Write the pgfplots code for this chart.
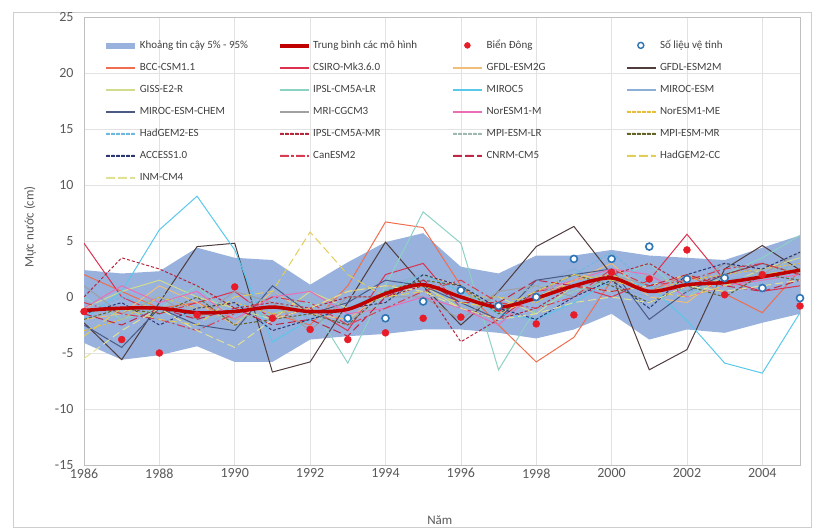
\documentclass[border=0pt]{standalone}
\usepackage{fontspec}
\setmainfont{Carlito}
\usepackage{pgfplots}
\usepackage{pgfplotstable}
\usepgfplotslibrary{fillbetween}
\pgfplotsset{compat=1.18}

\definecolor{bandc}{RGB}{152,177,221}
\definecolor{meanc}{RGB}{192,0,0}
\definecolor{obsc}{RGB}{232,28,40}
\definecolor{satc}{RGB}{46,117,182}
\definecolor{gridc}{RGB}{226,226,226}
\definecolor{axc}{RGB}{191,191,191}
\definecolor{tlc}{RGB}{89,89,89}
\definecolor{legc}{RGB}{64,64,64}
\definecolor{cBCC}{RGB}{240,110,80}
\definecolor{cCSIRO}{RGB}{220,50,80}
\definecolor{cGFDLG}{RGB}{240,190,120}
\definecolor{cGFDLM}{RGB}{80,60,60}
\definecolor{cGISS}{RGB}{210,220,140}
\definecolor{cIPSLLR}{RGB}{140,210,195}
\definecolor{cMIROCv}{RGB}{90,200,235}
\definecolor{cMESM}{RGB}{140,175,215}
\definecolor{cMCHEM}{RGB}{75,90,130}
\definecolor{cMRI}{RGB}{160,160,160}
\definecolor{cNOR}{RGB}{235,110,180}
\definecolor{cNORME}{RGB}{230,190,60}
\definecolor{cHADES}{RGB}{110,185,225}
\definecolor{cIPSLMR}{RGB}{180,40,60}
\definecolor{cMPILR}{RGB}{160,185,175}
\definecolor{cMPIMR}{RGB}{100,100,40}
\definecolor{cACCESS}{RGB}{45,55,115}
\definecolor{cCAN}{RGB}{215,60,80}
\definecolor{cCNRM}{RGB}{190,40,70}
\definecolor{cHADCC}{RGB}{225,205,90}
\definecolor{cINM}{RGB}{225,225,150}

\pgfplotstableread{
year bcc csiro gfdlg gfdlm giss ipsllr miroc5 mesm mchem mri nor norme hades ipslmr mpilr mpimr access can cnrm hadcc inm
1986 2.0 4.8 -2.0 -2.3 -1.0 0.0 -2.0 -0.5 -2.5 1.0 -1.0 -3.0 -1.5 0.0 -1.0 -2.0 -1.5 -0.5 -1.5 -3.5 -5.5
1987 0.5 0.0 -1.5 -5.6 0.5 -2.0 0.5 -1.0 -4.5 -1.5 1.0 -2.0 0.0 3.5 -2.0 -1.0 -0.5 -1.5 -2.5 -1.0 -3.0
1988 -1.0 -1.5 1.0 -0.5 1.5 -1.0 6.0 -2.0 -1.0 0.0 -0.5 0.0 -1.0 2.5 0.5 -1.5 -2.5 -2.0 -1.0 -2.0 -1.0
1989 -0.5 -0.5 -0.5 4.5 0.0 1.0 9.0 -3.0 -2.5 -2.0 0.5 -1.0 -2.0 1.0 -1.5 0.0 -1.0 -3.0 -2.0 -2.5 -3.0
1990 -2.0 0.5 -2.5 4.8 -1.0 -2.0 4.2 -1.0 -3.0 0.5 -2.0 -0.5 -1.0 -1.0 -2.0 -2.5 -0.5 -1.5 -1.0 0.0 -4.5
1991 -1.5 -2.0 0.5 -6.7 -2.0 -1.5 -4.0 0.5 1.0 -0.5 0.0 -1.5 0.0 -0.5 -1.0 -2.0 -3.0 0.0 -2.5 0.5 -2.0
1992 -2.5 -1.0 -1.5 -5.8 0.5 -0.5 -2.0 -2.0 -1.5 -3.0 0.5 -1.0 -2.0 -1.0 0.0 -1.5 -2.0 -0.5 -2.0 5.8 -1.0
1993 1.0 -3.0 -2.0 -0.5 -1.0 -5.9 -1.0 0.0 -0.5 0.0 -1.5 0.5 -1.0 0.0 -2.0 -2.5 -1.0 -2.5 -3.5 2.0 0.5
1994 6.7 2.0 0.5 4.9 0.0 1.0 0.5 1.0 1.5 0.0 -1.0 1.0 0.5 0.0 -0.5 0.5 -0.5 -1.0 0.0 0.0 1.0
1995 6.2 3.0 2.0 1.0 1.0 7.6 2.0 2.0 1.0 0.0 0.0 1.0 2.0 1.0 2.0 1.5 2.0 0.5 1.5 0.5 0.5
1996 1.0 -1.0 1.0 -2.5 -1.0 4.8 0.5 -1.0 -0.5 -2.0 -1.0 0.0 0.5 -4.0 0.0 1.0 1.0 1.5 -0.5 -0.5 -1.0
1997 -2.5 -2.0 -1.5 0.5 0.0 -6.5 -1.5 0.0 -2.0 0.5 -2.5 0.0 -1.0 -2.0 -0.5 -1.5 -1.0 -0.5 -0.5 -1.0 -2.0
1998 -5.8 0.5 0.0 4.5 -1.5 -1.0 -2.0 1.0 1.5 1.0 0.5 -0.5 0.0 -1.0 1.0 0.5 -2.0 -1.0 1.5 0.5 -1.5
1999 -3.6 1.0 1.5 6.3 1.0 0.5 -0.5 2.5 2.0 0.0 1.5 1.5 2.0 1.0 0.5 2.0 0.0 0.0 1.0 2.0 -0.5
2000 1.5 0.0 3.0 2.0 0.5 1.5 1.5 1.0 2.5 2.0 2.5 2.0 4.0 2.0 1.0 1.0 1.5 2.5 0.5 1.5 0.0
2001 0.5 1.5 0.0 -6.5 1.0 3.0 1.0 0.0 -2.0 1.0 2.0 0.5 1.0 3.0 2.0 -0.5 -1.0 1.0 1.0 0.5 -0.5
2002 2.0 5.6 -0.5 -4.7 2.0 0.0 -2.1 2.0 0.5 0.5 0.0 1.5 0.5 1.0 1.0 1.0 2.0 1.5 2.0 0.0 1.0
2003 0.3 1.5 2.0 2.5 1.0 2.0 -5.9 1.5 2.0 3.0 1.0 2.0 1.0 2.0 0.5 0.0 3.0 2.5 1.0 1.0 0.5
2004 -1.4 0.5 3.0 4.6 2.5 3.5 -6.8 2.0 3.0 2.0 1.5 2.5 2.0 3.0 2.5 2.0 2.5 3.0 0.5 2.0 1.0
2005 2.4 1.0 2.0 2.4 3.5 5.5 -1.4 3.0 2.0 4.0 2.0 3.0 1.5 2.0 2.5 1.5 4.0 2.0 1.5 2.5 1.5
}\models

\pgfplotstableread{
year up lo mean obs
1986 2.4 -4.1 -1.2 -1.3
1987 2.1 -5.6 -1.0 -3.8
1988 2.3 -5.2 -1.0 -5.0
1989 4.4 -4.4 -1.4 -1.6
1990 3.5 -5.8 -1.3 0.9
1991 3.3 -5.8 -0.9 -1.9
1992 1.1 -3.8 -1.3 -2.9
1993 3.1 -3.5 -1.1 -3.8
1994 4.9 -3.3 0.3 -3.2
1995 5.7 -2.9 1.1 -1.9
1996 2.7 -2.9 0.0 -1.8
1997 2.1 -3.2 -0.9 -1.0
1998 3.7 -3.7 -0.1 -2.4
1999 3.7 -2.9 1.0 -1.6
2000 4.2 -1.5 1.7 2.2
2001 3.7 -3.8 0.5 1.6
2002 3.5 -2.9 1.1 4.2
2003 3.3 -3.2 1.3 0.2
2004 4.4 -2.3 1.8 2.0
2005 5.5 -1.5 2.4 -0.8
}\bandtab

\pgfplotstableread{
year sat
1993 -1.9
1994 -1.9
1995 -0.4
1996 0.6
1997 -0.8
1998 0.0
1999 3.4
2000 3.4
2001 4.5
2002 1.6
2003 1.7
2004 0.8
2005 -0.1
}\sattab

\newcommand{\SOLc}[1]{\fill[#1] (0pt,-0.6pt) rectangle (28pt,0.6pt);}
\newcommand{\SHDc}[1]{\fill[#1] (0pt,-0.6pt) rectangle (3pt,0.6pt) (5pt,-0.6pt) rectangle (8pt,0.6pt) (10pt,-0.6pt) rectangle (13pt,0.6pt) (15pt,-0.6pt) rectangle (18pt,0.6pt) (20pt,-0.6pt) rectangle (23pt,0.6pt) (25pt,-0.6pt) rectangle (28pt,0.6pt);}
\newcommand{\LGDc}[1]{\fill[#1] (0pt,-0.6pt) rectangle (8pt,0.6pt) (12pt,-0.6pt) rectangle (20pt,0.6pt) (24pt,-0.6pt) rectangle (28pt,0.6pt);}
\newcommand{\DDTc}[1]{\fill[#1] (0pt,-0.6pt) rectangle (8pt,0.6pt) (11pt,-0.6pt) rectangle (13pt,0.6pt) (16pt,-0.6pt) rectangle (24pt,0.6pt) (27pt,-0.6pt) rectangle (28pt,0.6pt);}
\newcommand{\LE}[1]{\makebox[136pt][l]{\textcolor{legc}{#1}}}
\newcommand{\LS}[3]{\addlegendimage{legend image code/.code={#2{#1}}}\addlegendentry{\LE{#3}}}
\newcommand{\MP}[3]{\addplot[forget plot, no markers, line width=1pt, color=#1, #2] table[x=year,y=#3]{\models};}

\begin{document}
\begin{tikzpicture}
\draw[color=gridc!80!gray, line width=0.8pt] (-71pt,-62pt) rectangle (727pt,453pt);
\begin{axis}[
  at={(0pt,0pt)}, anchor=south west,
  scale only axis, width=716pt, height=448pt,
  xmin=1986, xmax=2005, ymin=-15, ymax=25,
  xtick={1986,1988,...,2004}, ytick={-15,-10,...,25},
  grid=major, major grid style={draw=gridc, line width=0.6pt},
  axis line style={draw=axc, line width=0.8pt},
  major tick length=0pt,
  tick label style={font=\fontsize{14}{16}\selectfont, text=tlc},
  /pgf/number format/assume math mode=true,
  /pgf/number format/1000 sep={},
  yticklabel style={xshift=-7pt},
  xlabel={Năm}, ylabel={Mực nước (cm)},
  label style={font=\fontsize{13}{15}\selectfont, text=tlc},
  xlabel style={at={(axis description cs:0.497,-0.123)}, anchor=center},
  ylabel style={at={(axis description cs:-0.0754,0.531)}, anchor=center},
  legend columns=4,
  legend style={draw=none, fill=none, at={(axis description cs:0.031,0.951)}, anchor=north west,
    inner sep=0pt, font=\fontsize{11}{13}\selectfont,
    nodes={inner sep=1pt, text height=8pt, text depth=2.5pt},
    row sep=9.5pt,
    /tikz/every odd column/.append style={column sep=4pt},
    /tikz/every even column/.append style={column sep=3pt}},
]
\addplot[name path=bu, draw=none, forget plot] table[x=year,y=up]{\bandtab};
\addplot[name path=bl, draw=none, forget plot] table[x=year,y=lo]{\bandtab};
\addplot[fill=bandc, draw=none, forget plot] fill between[of=bu and bl];

\MP{cBCC}{}{bcc}
\MP{cCSIRO}{}{csiro}
\MP{cGFDLG}{}{gfdlg}
\MP{cGFDLM}{}{gfdlm}
\MP{cGISS}{}{giss}
\MP{cIPSLLR}{}{ipsllr}
\MP{cMIROCv}{}{miroc5}
\MP{cMESM}{}{mesm}
\MP{cMCHEM}{}{mchem}
\MP{cMRI}{}{mri}
\MP{cNOR}{}{nor}
\MP{cNORME}{dash pattern=on 3pt off 2pt}{norme}
\MP{cHADES}{dash pattern=on 3pt off 2pt}{hades}
\MP{cIPSLMR}{dash pattern=on 3pt off 2pt}{ipslmr}
\MP{cMPILR}{dash pattern=on 3pt off 2pt}{mpilr}
\MP{cMPIMR}{dash pattern=on 3pt off 2pt}{mpimr}
\MP{cACCESS}{dash pattern=on 3pt off 2pt}{access}
\MP{cCAN}{dash pattern=on 8pt off 3pt on 2pt off 3pt}{can}
\MP{cCNRM}{dash pattern=on 8pt off 4pt}{cnrm}
\MP{cHADCC}{dash pattern=on 8pt off 4pt}{hadcc}
\MP{cINM}{dash pattern=on 8pt off 4pt}{inm}

\addplot[forget plot, meanc, line width=3.5pt, smooth, no markers] table[x=year,y=mean]{\bandtab};
\addplot[forget plot, only marks, mark=*, mark size=3.5pt, mark options={fill=obsc, draw=obsc}] table[x=year,y=obs]{\bandtab};
\addplot[forget plot, only marks, mark=*, mark size=3.5pt, mark options={fill=white, draw=satc, line width=1.6pt}] table[x=year,y=sat]{\sattab};

\addlegendimage{legend image code/.code={\fill[bandc] (0pt,-2.5pt) rectangle (28pt,2.5pt);}}
\addlegendentry{\LE{Khoảng tin cậy 5\% - 95\%}}
\addlegendimage{legend image code/.code={\fill[meanc] (0pt,-1.6pt) rectangle (28pt,1.6pt);}}
\addlegendentry{\LE{Trung bình các mô hình}}
\addlegendimage{legend image code/.code={\fill[obsc] (14pt,0pt) circle (3pt);}}
\addlegendentry{\LE{Biển Đông}}
\addlegendimage{legend image code/.code={\draw[satc, line width=1.4pt, fill=white] (14pt,0pt) circle (3pt);}}
\addlegendentry{\LE{Số liệu vệ tinh}}
\LS{cBCC}{\SOLc}{BCC-CSM1.1}
\LS{cCSIRO}{\SOLc}{CSIRO-Mk3.6.0}
\LS{cGFDLG}{\SOLc}{GFDL-ESM2G}
\LS{cGFDLM}{\SOLc}{GFDL-ESM2M}
\LS{cGISS}{\SOLc}{GISS-E2-R}
\LS{cIPSLLR}{\SOLc}{IPSL-CM5A-LR}
\LS{cMIROCv}{\SOLc}{MIROC5}
\LS{cMESM}{\SOLc}{MIROC-ESM}
\LS{cMCHEM}{\SOLc}{MIROC-ESM-CHEM}
\LS{cMRI}{\SOLc}{MRI-CGCM3}
\LS{cNOR}{\SOLc}{NorESM1-M}
\LS{cNORME}{\SHDc}{NorESM1-ME}
\LS{cHADES}{\SHDc}{HadGEM2-ES}
\LS{cIPSLMR}{\SHDc}{IPSL-CM5A-MR}
\LS{cMPILR}{\SHDc}{MPI-ESM-LR}
\LS{cMPIMR}{\SHDc}{MPI-ESM-MR}
\LS{cACCESS}{\SHDc}{ACCESS1.0}
\LS{cCAN}{\DDTc}{CanESM2}
\LS{cCNRM}{\LGDc}{CNRM-CM5}
\LS{cHADCC}{\LGDc}{HadGEM2-CC}
\LS{cINM}{\LGDc}{INM-CM4}
\end{axis}
\pgfresetboundingbox
\path[use as bounding box] (-84pt,-64pt) rectangle (729pt,465pt);
\end{tikzpicture}
\end{document}
